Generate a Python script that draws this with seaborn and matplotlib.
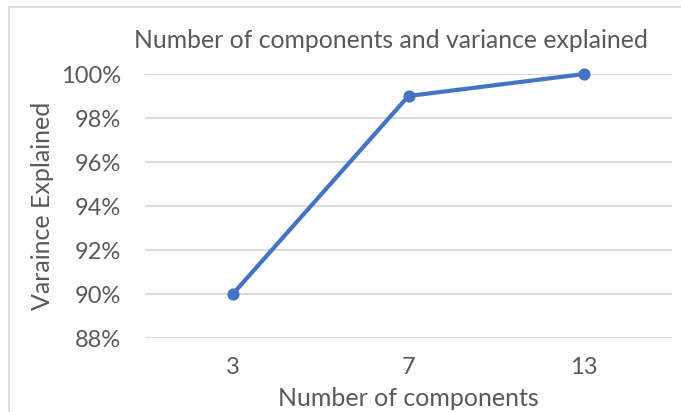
import matplotlib
matplotlib.use("Agg")
import matplotlib.pyplot as plt
import matplotlib.patches as mpatches
from matplotlib.ticker import PercentFormatter
import seaborn as sns

# Explained variance by number of retained components
components = ["3", "7", "13"]
variance = [0.90, 0.99, 1.00]
y_ticks = [0.88, 0.90, 0.92, 0.94, 0.96, 0.98, 1.00]

sns.set_theme(style="white")
plt.rcParams["font.family"] = ["Lato", "DejaVu Sans"]

text_color = "#595959"
line_color = "#4472C4"
grid_color = "#D9D9D9"

fig = plt.figure(figsize=(6.81, 4.12), dpi=100)
ax = fig.add_axes([145 / 681, 1 - 338 / 412, (672 - 145) / 681, (338 - 74) / 412])

sns.pointplot(x=components, y=variance, color=line_color, markers="o",
              linestyles="-", markersize=6.5, linewidth=3, ax=ax)
for artist in ax.lines + ax.collections:
    artist.set_clip_on(False)

ax.set_xlim(-0.5, 2.5)
ax.set_ylim(0.88, 1.00)
ax.set_yticks(y_ticks)
ax.yaxis.set_major_formatter(PercentFormatter(xmax=1, decimals=0))
ax.grid(axis="y", color=grid_color, linewidth=1.4)
ax.set_axisbelow(True)
for s in ax.spines.values():
    s.set_visible(False)
ax.tick_params(axis="both", length=0, labelsize=17, colors=text_color)
ax.tick_params(axis="y", pad=17)
ax.tick_params(axis="x", pad=14)

ax.set_xlabel("Number of components", fontsize=18, color=text_color, labelpad=6)
ax.set_ylabel("Varaince Explained", fontsize=18, color=text_color, labelpad=5)

fig.text(391 / 681, 1 - 40 / 412, "Number of components and variance explained",
         ha="center", va="center", fontsize=17.8, color=text_color)

# chart area frame
fig.patches.append(mpatches.Rectangle((9 / 681, -0.1), 1.2, 1 - 7 / 412 + 0.1,
                                      transform=fig.transFigure, fill=False,
                                      edgecolor="#D9D9D9", linewidth=1.2))

fig.savefig("out.png", dpi=100)
